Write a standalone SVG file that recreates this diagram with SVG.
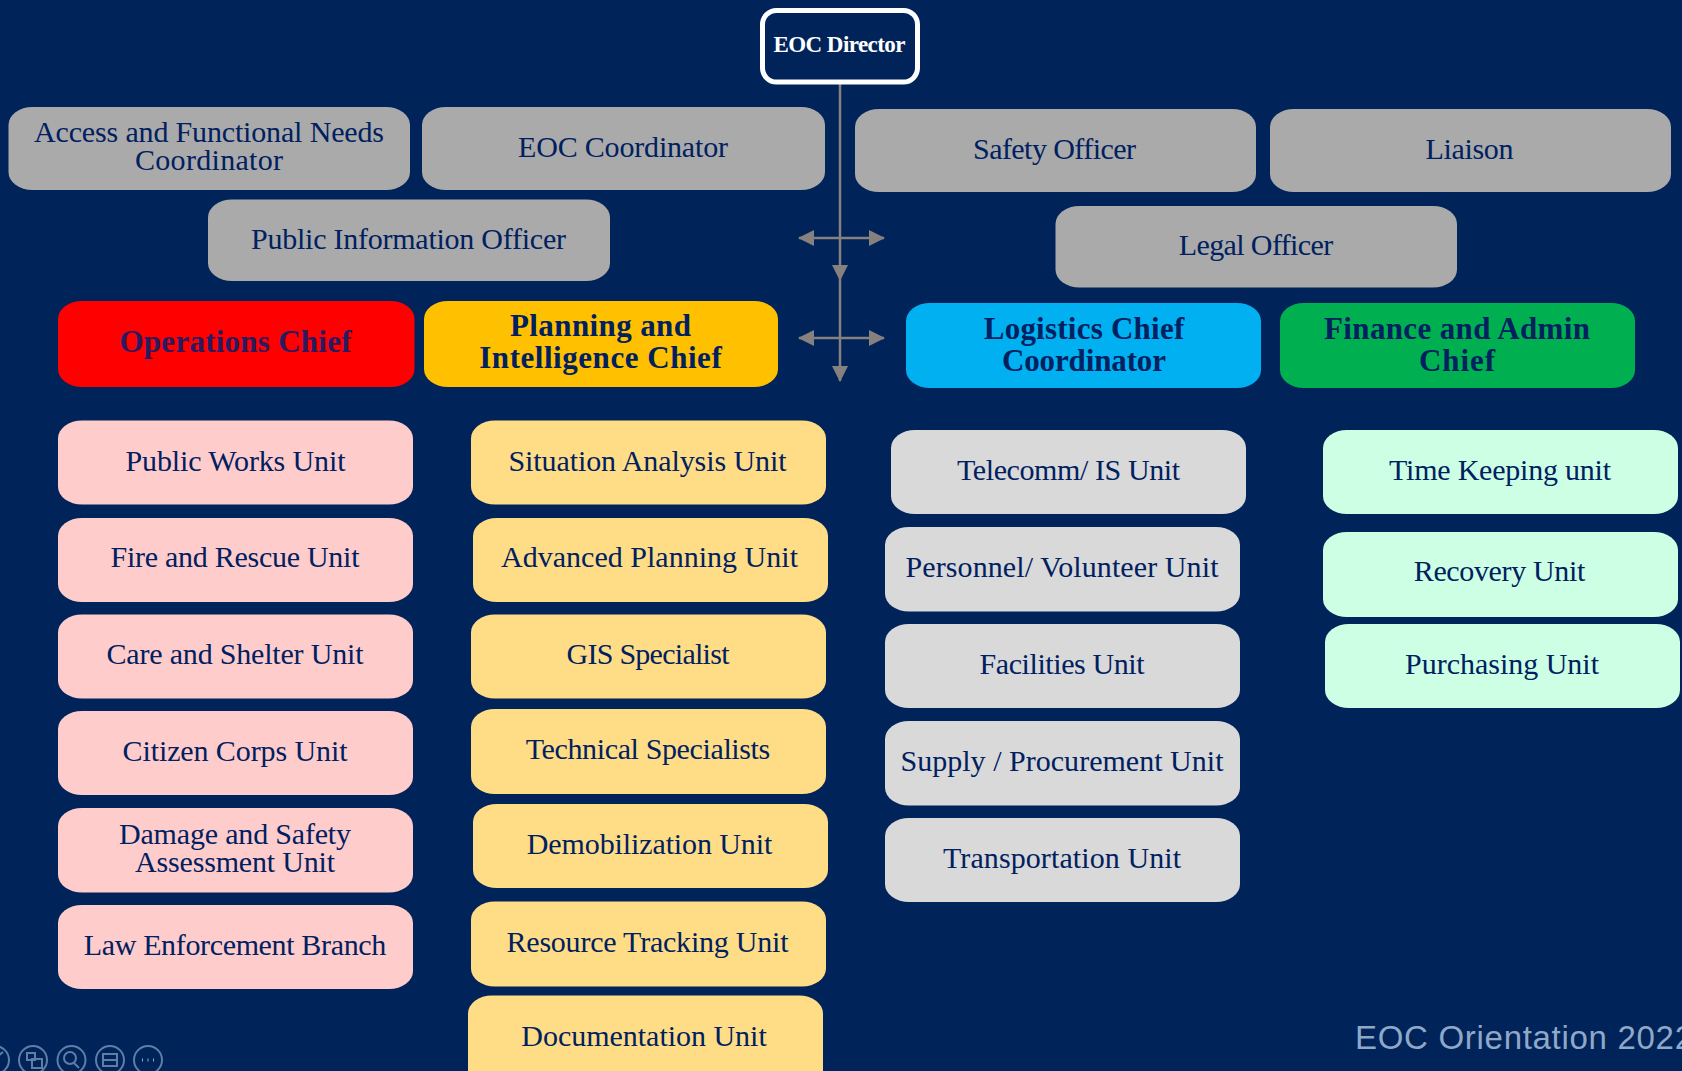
<svg xmlns="http://www.w3.org/2000/svg" width="1682" height="1071" viewBox="0 0 1682 1071">
<defs>
<marker id="ah" markerUnits="userSpaceOnUse" markerWidth="16" markerHeight="16" refX="15" refY="8" orient="auto-start-reverse"><path d="M0 0L16 8L0 16Z" fill="#86817f"/></marker>
</defs>
<style>
text{font-family:"Liberation Serif","DejaVu Serif",serif;text-anchor:middle;fill:#002060;font-size:30px}
.b{font-weight:700;font-size:31px}
.gr,.pk,.ye,.lg,.mi,.ch{rx:24px;ry:18px}
.gr{fill:#aaaaaa}.pk{fill:#ffcccc}.ye{fill:#ffdd86}.lg{fill:#d9d9d9}.mi{fill:#ccffe4}
.ic{fill:none;stroke:#5f7ea6;stroke-width:2}
</style>
<rect width="1682" height="1071" fill="#00235a"/>
<g id="connectors" fill="none" stroke="#86817f" stroke-width="2.5">
<path d="M840 84V280" marker-end="url(#ah)"/>
<path d="M840 280V381" marker-end="url(#ah)"/>
<path d="M799 238H884" marker-start="url(#ah)" marker-end="url(#ah)"/>
<path d="M799 338H884" marker-start="url(#ah)" marker-end="url(#ah)"/>
</g>
<g id="director"><rect x="762.500" y="10.500" width="155" height="71.500" rx="14" style="fill:#00235a;stroke:#fff;stroke-width:5"/><text x="839.500" y="52" style="fill:#fff;font-weight:700;font-size:23px" textLength="132">EOC Director</text></g>
<g id="access"><rect class="gr" x="8.500" y="107" width="401.500" height="83"/><text x="209" y="141.500" textLength="350">Access and Functional Needs</text><text x="209" y="169.500" textLength="148">Coordinator</text></g>
<g id="eoc-coordinator"><rect class="gr" x="422" y="107" width="403" height="83"/><text x="623" y="156.500" textLength="210">EOC Coordinator</text></g>
<g id="safety"><rect class="gr" x="855" y="109" width="401" height="83"/><text x="1054.500" y="159" textLength="163">Safety Officer</text></g>
<g id="liaison"><rect class="gr" x="1270" y="109" width="401" height="83"/><text x="1469.500" y="159" textLength="88">Liaison</text></g>
<g id="pio"><rect class="gr" x="208" y="199.500" width="402" height="81.500"/><text x="408.500" y="249" textLength="315">Public Information Officer</text></g>
<g id="legal"><rect class="gr" x="1055.500" y="206" width="401.500" height="81.500"/><text x="1256" y="254.500" textLength="154.500">Legal Officer</text></g>
<g id="operations"><rect class="ch" x="58" y="301" width="356.500" height="86" fill="#ff0000"/><text class="b" x="235.500" y="352" textLength="232" style="fill:#2a1a60">Operations Chief</text></g>
<g id="planning"><rect class="ch" x="424" y="301" width="354" height="86" fill="#ffc000"/><text class="b" x="600.500" y="336" textLength="181">Planning and</text><text class="b" x="600.500" y="368" textLength="242.500">Intelligence Chief</text></g>
<g id="logistics"><rect class="ch" x="906" y="303" width="355" height="85" fill="#00b0f0"/><text class="b" x="1084" y="339" textLength="200.500">Logistics Chief</text><text class="b" x="1084" y="371" textLength="164">Coordinator</text></g>
<g id="finance"><rect class="ch" x="1280" y="303" width="355" height="85" fill="#00b050"/><text class="b" x="1457" y="339" textLength="266">Finance and Admin</text><text class="b" x="1457" y="371" textLength="76">Chief</text></g>
<g id="public-works"><rect class="pk" x="58" y="420.500" width="355" height="84"/><text x="235.500" y="471" textLength="220">Public Works Unit</text></g>
<g id="fire"><rect class="pk" x="58" y="518" width="355" height="84"/><text x="235" y="567" textLength="249">Fire and Rescue Unit</text></g>
<g id="care"><rect class="pk" x="58" y="614.500" width="355" height="84"/><text x="235" y="664" textLength="257">Care and Shelter Unit</text></g>
<g id="citizen"><rect class="pk" x="58" y="711" width="355" height="84"/><text x="235" y="761" textLength="225">Citizen Corps Unit</text></g>
<g id="damage"><rect class="pk" x="58" y="808" width="355" height="84.500"/><text x="235" y="844" textLength="232">Damage and Safety</text><text x="235" y="872" textLength="200">Assessment Unit</text></g>
<g id="law"><rect class="pk" x="58" y="905" width="355" height="84"/><text x="235" y="955" textLength="302.500">Law Enforcement Branch</text></g>
<g id="situation"><rect class="ye" x="471" y="420.500" width="355" height="84"/><text x="647.500" y="471" textLength="278">Situation Analysis Unit</text></g>
<g id="advanced"><rect class="ye" x="473" y="518" width="355" height="84"/><text x="649.500" y="567" textLength="297">Advanced Planning Unit</text></g>
<g id="gis"><rect class="ye" x="471" y="614.500" width="355" height="84"/><text x="648" y="664" textLength="163">GIS Specialist</text></g>
<g id="technical"><rect class="ye" x="471" y="709" width="355" height="85"/><text x="648" y="759" textLength="244.500">Technical Specialists</text></g>
<g id="demobilization"><rect class="ye" x="473" y="804" width="355" height="84"/><text x="649.500" y="854" textLength="245.500">Demobilization Unit</text></g>
<g id="resource"><rect class="ye" x="471" y="901.500" width="355" height="85"/><text x="647.500" y="951.500" textLength="282">Resource Tracking Unit</text></g>
<g id="documentation"><rect class="ye" x="468" y="995.500" width="355" height="100"/><text x="644" y="1045.500" textLength="245.500">Documentation Unit</text></g>
<g id="telecomm"><rect class="lg" x="891" y="430" width="355" height="84"/><text x="1068.500" y="479.500" textLength="223">Telecomm/ IS Unit</text></g>
<g id="personnel"><rect class="lg" x="885" y="527" width="355" height="84.500"/><text x="1062" y="577" textLength="313">Personnel/ Volunteer Unit</text></g>
<g id="facilities"><rect class="lg" x="885" y="624" width="355" height="84"/><text x="1062" y="674" textLength="165">Facilities Unit</text></g>
<g id="supply"><rect class="lg" x="885" y="721" width="355" height="84.500"/><text x="1062" y="771" textLength="323">Supply / Procurement Unit</text></g>
<g id="transportation"><rect class="lg" x="885" y="818" width="355" height="84"/><text x="1062" y="868" textLength="238">Transportation Unit</text></g>
<g id="time"><rect class="mi" x="1323" y="430" width="355" height="84"/><text x="1500" y="479.500" textLength="222">Time Keeping unit</text></g>
<g id="recovery"><rect class="mi" x="1323" y="532" width="355" height="85"/><text x="1499.500" y="581" textLength="171.500">Recovery Unit</text></g>
<g id="purchasing"><rect class="mi" x="1325" y="624" width="355" height="84"/><text x="1502" y="674" textLength="194">Purchasing Unit</text></g>
<text x="1355" y="1049" style="font-family:'Liberation Sans',sans-serif;font-size:33px;text-anchor:start;fill:#8fa8c8" textLength="338">EOC Orientation 2022</text>
<circle class="ic" cx="-5" cy="1060" r="14"/><path class="ic" d="M-2 1056L3 1052"/>
<circle class="ic" cx="33" cy="1060" r="14"/><rect class="ic" x="27" y="1053" width="8" height="7"/><rect class="ic" x="32" y="1059" width="10" height="9"/>
<circle class="ic" cx="71.500" cy="1060" r="14"/><circle class="ic" cx="70" cy="1058" r="6"/><path class="ic" d="M74 1063L79 1068"/>
<circle class="ic" cx="110" cy="1060" r="14"/><rect class="ic" x="103" y="1054" width="14" height="12"/><path class="ic" d="M103 1060H117"/>
<circle class="ic" cx="148" cy="1060" r="14"/><path d="M142 1060H143M147.500 1060H148.500M153 1060H154" stroke="#8fa8c8" stroke-width="3" fill="none"/>
</svg>
